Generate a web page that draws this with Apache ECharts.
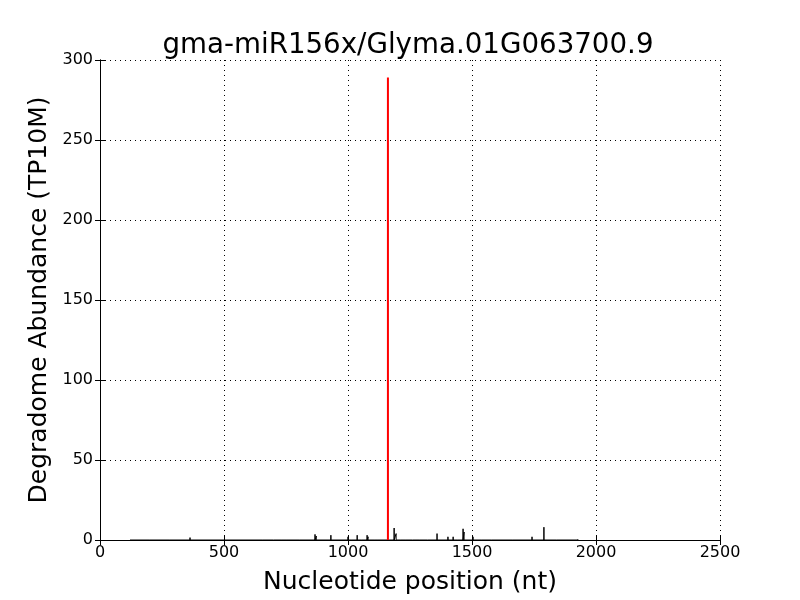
<!DOCTYPE html>
<html><head><meta charset="utf-8">
<script src="https://cdn.jsdelivr.net/npm/echarts@6/dist/echarts.min.js"></script>
<style>html,body{margin:0;padding:0;background:#fff}#c{width:800px;height:600px}</style>
</head><body><div id="c"></div>
<script>
const titleText = 'gma-miR156x/Glyma.01G063700.9';
const xTicks = [0, 500, 1000, 1500, 2000, 2500];
const yTicks = [0, 50, 100, 150, 200, 250, 300];
// background degradome reads (black)
const bgPositions = [121, 198, 282, 363, 657, 700, 730, 754, 806, 867, 872, 931, 1000, 1016, 1037, 1056, 1077, 1081, 1105, 1117, 1166, 1186, 1194, 1210, 1230, 1260, 1290, 1320, 1359, 1403, 1424, 1440, 1464, 1468, 1504, 1540, 1580, 1665, 1742, 1790, 1842, 1875, 1927];
const bgValues    = [1,   0.5, 0.7, 1.5, 1,   0.5, 0.5, 0.5, 1,   3.5, 2.5, 3,   2,    1,    3,    1,    3,    2,    1,    1,    1,    7.5,  4,    1,    1,    1,    1,    1,    4,    2,    2,    1,    7,    5,    2,    1,    1,    1,    2,    8,    1,    1,    0.5];
// miRNA target site (red)
const sitePositions = [1161];
const siteValues = [289];

function spikes(pos, vals) {
  const out = [];
  pos.forEach((p, i) => { out.push([p, 0], [p, vals[i]], [p, 0]); });
  return out;
}

const chart = echarts.init(document.getElementById('c'));
const font = 'DejaVu Sans';
const grid = { color: '#000', type: [1, 4], width: 1 };
chart.setOption({
  animation: false,
  title: { text: titleText, left: 403, textAlign: 'center', top: 27, textStyle: { fontFamily: font, fontSize: 27.7, fontWeight: 'normal', color: '#000' } },
  grid: { left: 100, right: 80, top: 60, bottom: 60 },
  xAxis: [{
    type: 'value', min: 0, max: 2500, interval: 500,
    name: 'Nucleotide position (nt)', nameLocation: 'middle', nameGap: 30,
    nameTextStyle: { fontFamily: font, fontSize: 25, color: '#000' },
    axisLine: { lineStyle: { color: '#000', width: 1 } },
    axisTick: { inside: true, length: 5, lineStyle: { color: '#000' } },
    axisLabel: { fontFamily: font, fontSize: 16, color: '#000', margin: 5, formatter: v => String(v) },
    splitLine: { show: true, lineStyle: grid }
  }, {
    type: 'value', position: 'top', min: 0, max: 2500, interval: 500,
    axisLine: { show: true, lineStyle: { color: '#000', width: 1 } },
    axisTick: { inside: true, length: 5, lineStyle: { color: '#000' } },
    axisLabel: { show: false }, splitLine: { show: false }
  }],
  yAxis: [{
    type: 'value', min: 0, max: 300, interval: 50,
    name: 'Degradome Abundance (TP10M)', nameLocation: 'middle', nameGap: 45,
    nameTextStyle: { fontFamily: font, fontSize: 25, color: '#000' },
    axisLine: { show: true, lineStyle: { color: '#000', width: 1 } },
    axisTick: { show: true, inside: true, length: 5, lineStyle: { color: '#000' } },
    axisLabel: { fontFamily: font, fontSize: 16, color: '#000', margin: 7, formatter: v => String(v) },
    splitLine: { show: true, lineStyle: grid }
  }, {
    type: 'value', position: 'right', min: 0, max: 300, interval: 50,
    axisLine: { show: true, lineStyle: { color: '#000', width: 1 } },
    axisTick: { show: true, inside: true, length: 5, lineStyle: { color: '#000' } },
    axisLabel: { show: false }, splitLine: { show: false }
  }],
  series: [{
    type: 'line', data: spikes(bgPositions, bgValues), showSymbol: false,
    lineStyle: { color: '#000', width: 1 }, z: 3
  }, {
    type: 'line', data: spikes(sitePositions, siteValues), showSymbol: false,
    lineStyle: { color: '#ff0000', width: 2 }, z: 4
  }]
});
</script></body></html>
